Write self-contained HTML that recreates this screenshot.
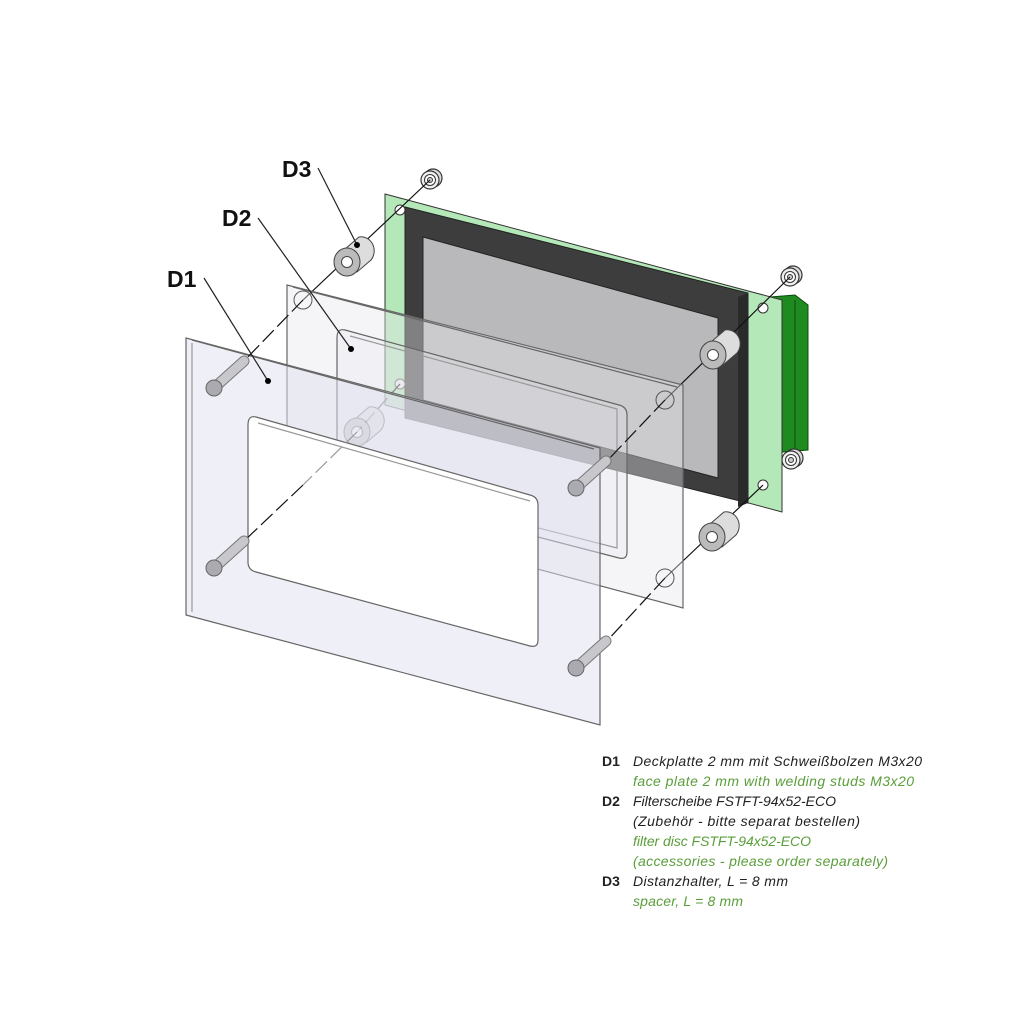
<!DOCTYPE html>
<html><head><meta charset="utf-8"><style>
html,body{margin:0;padding:0;background:#fff}
svg{display:block}
.t{font-family:"Liberation Sans",sans-serif;font-style:italic;font-size:14px}
.b{font-family:"Liberation Sans",sans-serif;font-weight:bold;font-size:14px;fill:#222}
.L{font-family:"Liberation Sans",sans-serif;font-weight:bold;font-size:23px;fill:#111}
</style></head><body>
<svg width="1024" height="1024" viewBox="0 0 1024 1024" xmlns="http://www.w3.org/2000/svg">
<defs>
<g id="nut"><circle cx="3" cy="-2" r="9" fill="#ddd" stroke="#333" stroke-width="1.2"/><circle r="9" fill="#eee" stroke="#333" stroke-width="1.2"/><circle r="5.5" fill="#fff" stroke="#333"/><circle r="2.5" fill="#ccc" stroke="#333"/></g>
<g id="sp"><path d="M-2,-13 L12,-25 A13,14 0 0 1 24,-2 L10,10 Z" fill="#ddd" stroke="#444"/><ellipse rx="13" ry="14" fill="#bbb" stroke="#444"/><circle r="5.5" fill="#fff" stroke="#444"/></g>
<g id="pin"><line x1="0" y1="0" x2="30" y2="-27" stroke="#777" stroke-width="11" stroke-linecap="round"/><line x1="0" y1="0" x2="30" y2="-27" stroke="#c8c8cc" stroke-width="9" stroke-linecap="round"/><ellipse rx="8" ry="8" fill="#aaaab0" stroke="#666"/></g>
</defs>
<polygon points="770,297 795,295 808,305 808,450 783,452 770,445" fill="#1f8a1f" stroke="#0c4c0c"/>
<line x1="795" y1="300" x2="795" y2="448" stroke="#0c4c0c"/>
<polygon points="385,194 782,300 782,512 385,405" fill="#b5e8b8" stroke="#333" stroke-width="1"/>
<polygon points="405,207 748,293 748,503 405,418" fill="#3d3d3d" stroke="#222"/>
<polygon points="738,297 748,293 748,503 738,507" fill="#2a2a2a"/>
<polygon points="423,237 718,318 718,478 423,400" fill="#b9b9bb" stroke="#222"/>
<circle cx="400" cy="210" r="5" fill="#fff" stroke="#333"/>
<circle cx="763" cy="308" r="5" fill="#fff" stroke="#333"/>
<circle cx="763" cy="485" r="5" fill="#fff" stroke="#333"/>
<circle cx="400" cy="384" r="5" fill="#eee" stroke="#555"/>
<use href="#nut" x="430" y="180"/><use href="#nut" x="790" y="277"/><use href="#nut" x="791" y="460"/>
<g stroke="#111" stroke-width="1.2" fill="none">
<line x1="430" y1="180" x2="303" y2="300"/>
<line x1="790" y1="277" x2="665" y2="400" />
<line x1="763" y1="485" x2="665" y2="578"/>
<line x1="400" y1="384" x2="357" y2="432" stroke-dasharray="14,5"/>
</g>
<use href="#sp" x="347" y="262"/>
<use href="#sp" x="713" y="355"/>
<use href="#sp" x="712" y="537"/>
<g stroke="#666" stroke-width="1.2">
<polygon points="287,285 683,385 683,608 287,502" fill="#e6e6ec" fill-opacity="0.4"/>
<polygon points="293,287 677,387" fill="none"/>
<path d="M345,330 L619,405 Q627,407 627,415 L627,552 Q627,560 619,558 L345,487 Q337,485 337,477 L337,338 Q337,328 345,330 Z" fill="#e9e9f0" fill-opacity="0.25"/>
<path d="M350,336 L617,409 L617,548 L350,480" fill="none" stroke="#999"/>
</g>
<g opacity="0.5"><use href="#sp" x="357" y="432"/></g>
<g stroke="#555" fill="none" stroke-width="1">
<circle cx="303" cy="300" r="9"/><circle cx="303" cy="485" r="9"/><circle cx="665" cy="400" r="9"/><circle cx="665" cy="578" r="9"/>
</g>
<g stroke="#666" stroke-width="1.2">
<polygon points="186,338 600,448 600,725 186,615" fill="#e0e0f0" fill-opacity="0.5"/>
<line x1="192" y1="340" x2="594" y2="449"/>
<line x1="192" y1="343" x2="192" y2="612" stroke="#999"/>
<path d="M256,417 L530,495 Q538,497 538,505 L538,640 Q538,648 530,646 L256,572 Q248,570 248,562 L248,425 Q248,415 256,417 Z" fill="#fff"/>
<path d="M258,423 L530,501" fill="none" stroke="#999"/>
</g>
<g stroke="#111" stroke-width="1.2" fill="none" stroke-dasharray="16,5">
<line x1="303" y1="300" x2="243" y2="362"/>
<line x1="303" y1="485" x2="243" y2="542"/>
<line x1="665" y1="400" x2="606" y2="462"/>
<line x1="665" y1="578" x2="606" y2="642"/>
<line x1="357" y1="432" x2="303" y2="485" stroke="#999"/>
</g>
<use href="#pin" x="214" y="388"/><use href="#pin" x="214" y="568"/>
<use href="#pin" x="576" y="488"/><use href="#pin" x="576" y="668"/>
<g stroke="#222" stroke-width="1.2">
<line x1="318" y1="168" x2="357" y2="245"/><line x1="258" y1="218" x2="351" y2="349"/><line x1="204" y1="278" x2="268" y2="381"/>
</g>
<circle cx="357" cy="245" r="3" fill="#000"/><circle cx="351" cy="349" r="3" fill="#000"/><circle cx="268" cy="381" r="3" fill="#000"/>
<text class="L" x="282" y="177">D3</text>
<text class="L" x="222" y="226">D2</text>
<text class="L" x="167" y="287">D1</text>
<text class="b" x="602" y="766">D1</text>
<text class="t" x="633" y="766" fill="#222" textLength="289">Deckplatte 2 mm mit Schweißbolzen M3x20</text>
<text class="t" x="633" y="786" fill="#5a9e3a" textLength="281">face plate 2 mm with welding studs M3x20</text>
<text class="b" x="602" y="806">D2</text>
<text class="t" x="633" y="806" fill="#222" textLength="203">Filterscheibe FSTFT-94x52-ECO</text>
<text class="t" x="633" y="826" fill="#222" textLength="227">(Zubehör - bitte separat bestellen)</text>
<text class="t" x="633" y="846" fill="#5a9e3a" textLength="178">filter disc FSTFT-94x52-ECO</text>
<text class="t" x="633" y="866" fill="#5a9e3a" textLength="255">(accessories - please order separately)</text>
<text class="b" x="602" y="886">D3</text>
<text class="t" x="633" y="886" fill="#222" textLength="155">Distanzhalter, L = 8 mm</text>
<text class="t" x="633" y="906" fill="#5a9e3a" textLength="110">spacer, L = 8 mm</text>
</svg>
</body></html>
